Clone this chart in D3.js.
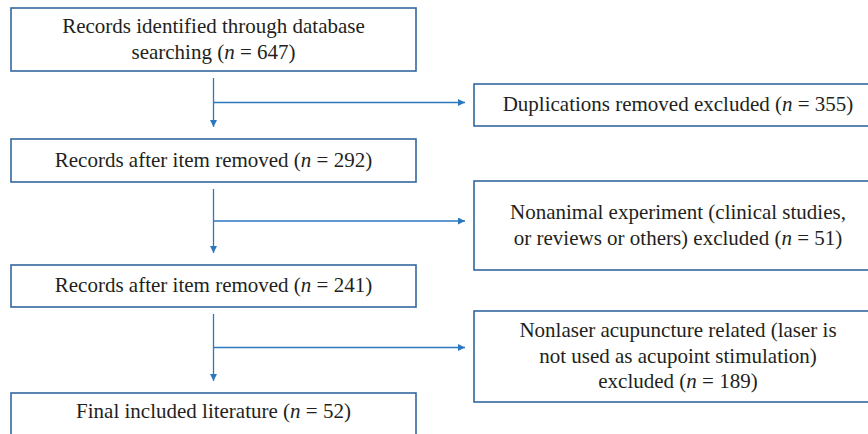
<!DOCTYPE html>
<html>
<head>
<meta charset="utf-8">
<script src="https://cdn.jsdelivr.net/npm/d3@7"></script>
<style>
  body { margin: 0; background: #fff; }
  svg { display: block; }
  text { font-family: "Liberation Serif", "Times New Roman", serif; fill: #231f20; }
</style>
</head>
<body>
<svg></svg>
<script>
// étapes principales (colonne de gauche)
const mainLines = [
    ["Records identified through database", "searching"],
    ["Records after item removed"],
    ["Records after item removed"],
    ["Final included literature"]
];
const mainCounts = [647, 292, 241, 52];

// exclusions (colonne de droite)
const exclLines = [
    ["Duplications removed excluded"],
    ["Nonanimal experiment (clinical studies,", "or reviews or others) excluded"],
    ["Nonlaser acupuncture related (laser is", "not used as acupoint stimulation)", "excluded"]
];
const exclCounts = [355, 51, 189];

const width = 868;
const height = 434;
const svg = d3.select("svg").attr("width", width).attr("height", height);

// géométrie des boîtes
const leftBox = { x0: 11, x1: 416 };
const rightBox = { x0: 474, x1: 882 };
const mainBoxY = [[8, 71], [139, 182], [265, 307], [393, 445]];
const exclBoxY = [[84, 126], [181, 270], [311, 402]];
const lineH = 25.5;
const fontSize = 21;

const boxColor = "#33689f";
const arrowColor = "#2b78c0";

svg.append("defs").append("marker")
    .attr("id", "head")
    .attr("viewBox", "0 0 10 10")
    .attr("refX", 10).attr("refY", 5)
    .attr("markerWidth", 7).attr("markerHeight", 7)
    .attr("markerUnits", "userSpaceOnUse")
    .attr("orient", "auto")
    .append("path")
    .attr("d", "M0,0L10,5L0,10Z")
    .attr("fill", arrowColor);

function drawBox(g, x0, x1, y0, y1, lines, count, cy) {
    g.append("rect")
        .attr("x", x0).attr("y", y0)
        .attr("width", x1 - x0).attr("height", y1 - y0)
        .attr("fill", "#fff")
        .attr("stroke", boxColor)
        .attr("stroke-width", 1.6);
    const cx = (x0 + x1) / 2;
    const n = lines.length;
    const firstBase = cy - (n - 1) * lineH / 2 + fontSize * 0.3;
    lines.forEach((l, i) => {
        const t = g.append("text")
            .attr("x", cx)
            .attr("y", firstBase + i * lineH)
            .attr("text-anchor", "middle")
            .attr("font-size", fontSize);
        if (i < n - 1) {
            t.text(l);
        } else {
            t.append("tspan").text(l + " (");
            t.append("tspan").attr("font-style", "italic").text("n");
            t.append("tspan").text(" = " + count + ")");
        }
    });
}

const boxes = svg.append("g");
mainLines.forEach((lines, i) => {
    const y = mainBoxY[i];
    // la dernière boîte est coupée en bas : texte sur la partie visible
    const cy = i === mainLines.length - 1 ? y[0] + 19 : (y[0] + y[1]) / 2;
    drawBox(boxes, leftBox.x0, leftBox.x1, y[0], y[1], lines, mainCounts[i], cy);
});
exclLines.forEach((lines, i) => {
    const y = exclBoxY[i];
    drawBox(boxes, rightBox.x0, rightBox.x1, y[0], y[1], lines, exclCounts[i], (y[0] + y[1]) / 2);
});

// flèches
const arrows = svg.append("g")
    .attr("stroke", arrowColor)
    .attr("stroke-width", 1.3)
    .attr("fill", "none");
const ax = (leftBox.x0 + leftBox.x1) / 2;
exclCounts.forEach((c, i) => {
    const top = mainBoxY[i][1] + 7;
    const bottom = mainBoxY[i + 1][0] - 12;
    const by = (top + bottom) / 2;
    arrows.append("line")
        .attr("x1", ax).attr("y1", top)
        .attr("x2", ax).attr("y2", bottom)
        .attr("marker-end", "url(#head)");
    arrows.append("line")
        .attr("x1", ax).attr("y1", by)
        .attr("x2", rightBox.x0 - 9).attr("y2", by)
        .attr("marker-end", "url(#head)");
});
</script>
</body>
</html>
